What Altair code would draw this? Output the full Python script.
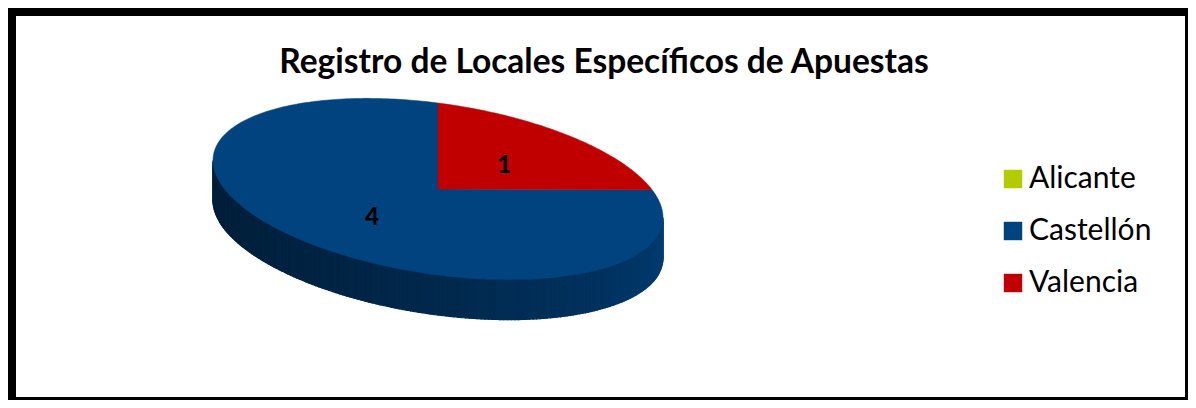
import math
import altair as alt
import pandas as pd

# ---- data ----
categories = ["Alicante", "Castellón", "Valencia"]
values = [0, 4, 1]
colors = ["#b3cc00", "#01437f", "#c00000"]
title_text = "Registro de Locales Específicos de Apuestas"

# ---- layout (pixels) ----
W, H = 1180, 392
CX, CY = 430, 181      # centre of the pie's top face
AX, AY = 225, 28.6     # projected 3 o'clock radius
BY = 86                # projected 12 o'clock radius
DEPTH = 40             # thickness of the 3D disc
FONT = "Lato"


def proj(t_deg, r=1.0, dy=0.0):
    t = math.radians(t_deg)
    x = CX + r * math.sin(t) * AX
    y = CY + r * (math.sin(t) * AY - math.cos(t) * BY) + dy
    return x, y


def shade(hex_color, f):
    h = hex_color.lstrip("#")
    rgb = [int(h[i:i + 2], 16) for i in (0, 2, 4)]
    return "#" + "".join(f"{max(0, min(255, int(round(c * f)))):02x}" for c in rgb)


total = sum(values)
top_rows, side_rows, label_rows = [], [], []
t_start = 360.0
for cat, val, col in zip(categories, values, colors):
    span = 360.0 * val / total
    t_end = t_start - span
    if val > 0:
        # top face polygon: centre -> arc -> centre
        pts = [(CX, CY)]
        n = max(2, int(span))
        for k in range(n + 1):
            pts.append(proj(t_start - span * k / n))
        pts.append((CX, CY))
        for i, (x, y) in enumerate(pts):
            top_rows.append({"cat": cat, "i": i, "px": x, "py": y})
        # label at mid angle, half radius
        lx, ly = proj((t_start + t_end) / 2, r=0.5)
        label_rows.append({"cat": cat, "val": str(val), "px": lx, "py": ly})
        # visible side (front half 90..270) split in shaded strips
        a, b = max(t_end, 90.0), min(t_start, 270.0)
        if b > a:
            step = 1.0
            t = a
            s = 0
            while t < b - 1e-9:
                t2 = min(b, t + step)
                u = (270.0 - (t + t2) / 2) / 180.0
                fc = shade(col, 0.45 + 0.47 * u ** 1.6)
                quad = [proj(t), proj(t2), proj(t2, dy=DEPTH), proj(t, dy=DEPTH), proj(t)]
                for i, (x, y) in enumerate(quad):
                    side_rows.append({"strip": f"{cat}-{s}", "i": i, "px": x, "py": y, "fc": fc})
                t = t2
                s += 1
    t_start = t_end

top_df = pd.DataFrame(top_rows)
side_df = pd.DataFrame(side_rows)
label_df = pd.DataFrame(label_rows)

xs = alt.Scale(domain=[0, W], nice=False, zero=False)
ys = alt.Scale(domain=[0, H], nice=False, zero=False, reverse=True)

side = alt.Chart(side_df).mark_line(filled=True, strokeWidth=1.2, interpolate="linear").encode(
    x=alt.X("px:Q", scale=xs, axis=None),
    y=alt.Y("py:Q", scale=ys, axis=None),
    detail="strip:N",
    order="i:Q",
    color=alt.Color("fc:N", scale=None),
    stroke=alt.Stroke("fc:N", scale=None),
)

top = alt.Chart(top_df).mark_line(filled=True, strokeWidth=0.5).encode(
    x=alt.X("px:Q", scale=xs, axis=None),
    y=alt.Y("py:Q", scale=ys, axis=None),
    detail="cat:N",
    order="i:Q",
    color=alt.Color(
        "cat:N",
        scale=alt.Scale(domain=categories, range=colors),
        legend=alt.Legend(
            title=None, orient="none", legendX=990, legendY=156,
            symbolType="square", symbolSize=340, symbolStrokeWidth=0,
            labelFont=FONT, labelFontSize=30, labelColor="#000000",
            rowPadding=22, symbolOffset=0, labelOffset=1,
        ),
    ),
    stroke=alt.Stroke("cat:N", scale=alt.Scale(domain=categories, range=colors), legend=None),
)

labels = alt.Chart(label_df).mark_text(
    font=FONT, fontSize=24, fontWeight=900, color="#000000", baseline="middle", align="center", dy=3
).encode(
    x=alt.X("px:Q", scale=xs, axis=None),
    y=alt.Y("py:Q", scale=ys, axis=None),
    text="val:N",
)

title = alt.Chart(pd.DataFrame({"t": [title_text]})).mark_text(
    font=FONT, fontSize=33.5, fontWeight="bold", color="#000000", baseline="middle", align="center"
).encode(x=alt.value(596), y=alt.value(55), text="t:N")

frame_df = pd.DataFrame({"k": [0]})
left = alt.Chart(frame_df).mark_rule(color="#000000", strokeWidth=8).encode(
    x=alt.value(4), y=alt.value(0), y2=alt.value(H))
topb = alt.Chart(frame_df).mark_rule(color="#000000", strokeWidth=8).encode(
    y=alt.value(4), x=alt.value(0), x2=alt.value(W))
right = alt.Chart(frame_df).mark_rule(color="#000000", strokeWidth=3).encode(
    x=alt.value(W - 1.5), y=alt.value(0), y2=alt.value(H))
bottom = alt.Chart(frame_df).mark_rule(color="#000000", strokeWidth=3).encode(
    y=alt.value(H - 1.5), x=alt.value(0), x2=alt.value(W))

chart = alt.layer(side, top, labels, title, left, topb, right, bottom).properties(
    width=W, height=H, padding=0, autosize=alt.AutoSizeParams(type="none"), background="#ffffff"
).configure_view(stroke=None)

chart.save("out.html", embed_options={"renderer": "svg", "actions": False})
